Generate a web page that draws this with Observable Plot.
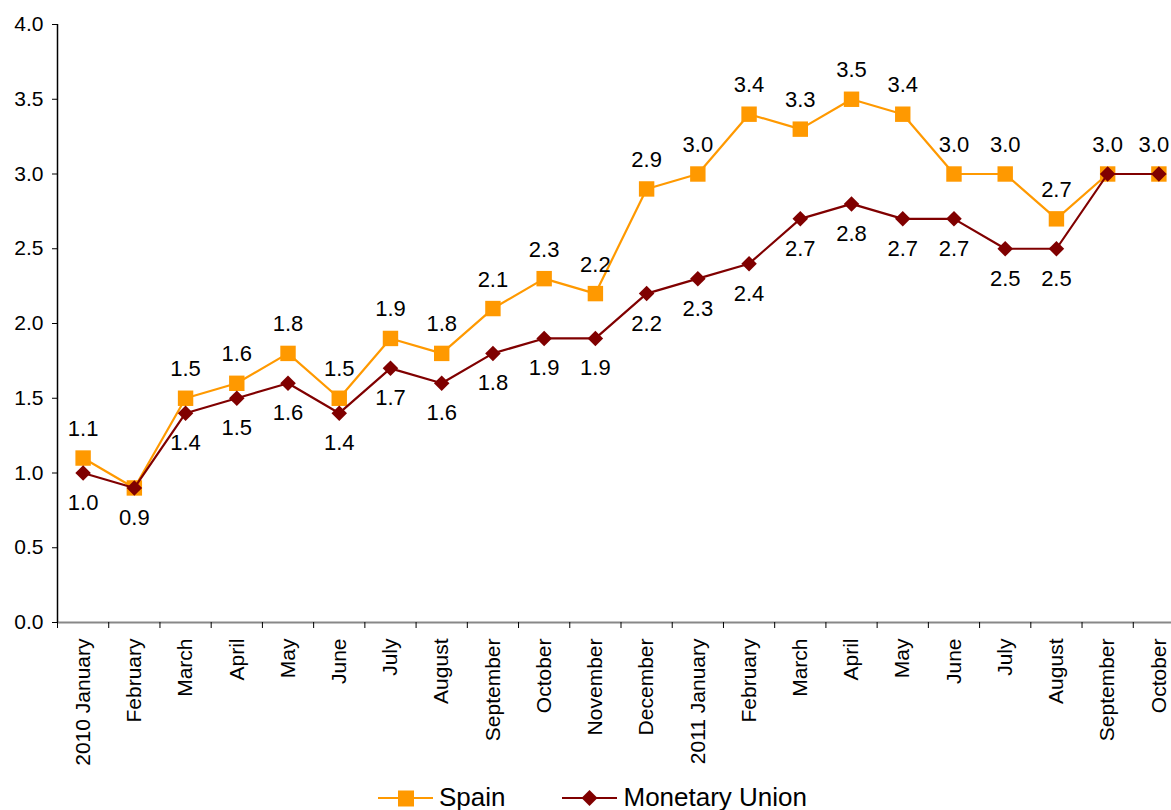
<!DOCTYPE html>
<html>
<head>
<meta charset="utf-8">
<script src="https://cdn.jsdelivr.net/npm/d3@7"></script>
<script src="https://cdn.jsdelivr.net/npm/@observablehq/plot@0.6"></script>
<style>
  html, body { margin: 0; padding: 0; background: #fff; overflow: hidden; width: 1171px; height: 810px; }
  #chart svg { overflow: hidden; }
  .legend { display: flex; justify-content: center; align-items: center; height: 35px; padding-top: 5px; font-family: "Liberation Sans", Arial, sans-serif; font-size: 26px; color: #000; margin-left: 14px; }
  .legend .item { display: flex; align-items: center; }
  .legend svg { display: block; margin-right: 6px; }
  .legend .gap { width: 57px; }
</style>
</head>
<body>
<div id="chart"></div>
<div class="legend">
  <div class="item"><svg width="55" height="20"><line x1="0" y1="10" x2="55" y2="10" stroke="#FF9900" stroke-width="2"/><rect x="20" y="2.5" width="16" height="16" fill="#FF9900"/></svg>Spain</div>
  <div class="gap"></div>
  <div class="item"><svg width="55" height="20"><line x1="0" y1="10" x2="55" y2="10" stroke="#800000" stroke-width="2"/><path d="M27.5 2 L35.5 10 L27.5 18 L19.5 10 Z" fill="#800000"/></svg>Monetary Union</div>
</div>
<script>
const months = ["2010 January","February","March","April","May","June","July","August","September","October","November","December","2011 January","February","March","April","May","June","July","August","September","October"];
const spain = [1.1,0.9,1.5,1.6,1.8,1.5,1.9,1.8,2.1,2.3,2.2,2.9,3.0,3.4,3.3,3.5,3.4,3.0,3.0,2.7,3.0,3.0];
const monetaryUnion = [1.0,0.9,1.4,1.5,1.6,1.4,1.7,1.6,1.8,1.9,1.9,2.2,2.3,2.4,2.7,2.8,2.7,2.7,2.5,2.5,3.0,3.0];
const spainLabelShown = [true,false,true,true,true,true,true,true,true,true,true,true,true,true,true,true,true,true,true,true,true,true];
const muLabelShown = [true,true,true,true,true,true,true,true,true,true,true,true,true,true,true,true,true,true,true,true,false,false];
const yTicks = [0,0.5,1,1.5,2,2.5,3,3.5,4];

const spainData = spain.map((v, i) => ({i, v}));
const muData = monetaryUnion.map((v, i) => ({i, v}));
const idx = months.map((m, i) => i);
const boundaries = months.map((m, i) => i - 0.5).concat([months.length - 0.5]);
const last = months.length - 1;

const diamond = {
  draw(ctx, size) {
    const r = Math.sqrt(size / 2);
    ctx.moveTo(0, -r); ctx.lineTo(r, 0); ctx.lineTo(0, r); ctx.lineTo(-r, 0); ctx.closePath();
  }
};

const font = "Liberation Sans, Arial, sans-serif";
const fmt = d3.format(".1f");

const chart = Plot.plot({
  width: 1171,
  height: 775,
  marginLeft: 57,
  marginRight: -13,
  marginTop: 24,
  marginBottom: 153,
  style: {fontFamily: font, fontSize: "21px", color: "#000", background: "#fff"},
  x: {type: "linear", domain: [-0.5, months.length - 0.5]},
  y: {domain: [0, 4]},
  marks: [
    Plot.ruleY([0], {stroke: "#888", strokeWidth: 2}),
    Plot.ruleX([-0.5], {stroke: "#000", strokeWidth: 1.5}),
    Plot.axisY({ticks: yTicks, tickFormat: fmt, tickSize: 5, tickPadding: 9, label: null, fontSize: 21, stroke: "#000"}),
    Plot.axisX({ticks: boundaries, tickSize: 6, text: null, label: null, stroke: "#000"}),
    Plot.axisX({ticks: idx, tickSize: 0, tickPadding: 16, tickRotate: -90, tickFormat: i => months[i], label: null, fontSize: 21}),
    Plot.line(spainData, {x: "i", y: "v", stroke: "#FF9900", strokeWidth: 2.2}),
    Plot.dot(spainData, {x: "i", y: "v", symbol: "square", r: 8.7, fill: "#FF9900", stroke: "none"}),
    Plot.line(muData, {x: "i", y: "v", stroke: "#800000", strokeWidth: 2.2}),
    Plot.dot(muData, {x: "i", y: "v", symbol: diamond, r: 6.2, fill: "#800000", stroke: "none"}),
    Plot.text(spainData.filter(d => spainLabelShown[d.i] && d.i !== last), {x: "i", y: "v", text: d => fmt(d.v), dy: -29, fontSize: 22, fill: "#000"}),
    Plot.text(spainData.filter(d => spainLabelShown[d.i] && d.i === last), {x: "i", y: "v", text: d => fmt(d.v), dy: -29, dx: -5, fontSize: 22, fill: "#000"}),
    Plot.text(muData.filter(d => muLabelShown[d.i]), {x: "i", y: "v", text: d => fmt(d.v), dy: 30, fontSize: 22, fill: "#000"})
  ]
});
document.getElementById("chart").appendChild(chart);
</script>
</body>
</html>
